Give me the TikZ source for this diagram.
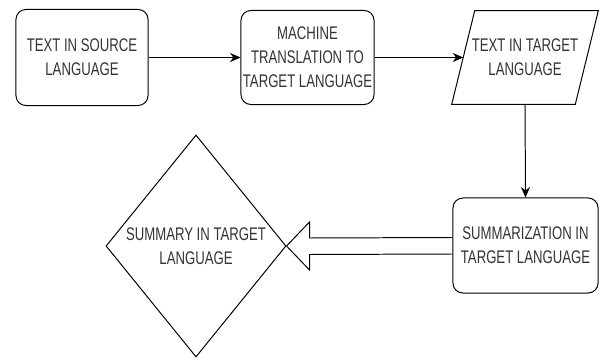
\documentclass[tikz,border=0pt]{standalone}
\usepackage{fontspec}
\setmainfont{Liberation Sans}[FakeStretch=0.72]
\usetikzlibrary{arrows.meta, calc, shapes.geometric}

\tikzset{
    flowbox/.style={draw, line width=0.7pt, rounded corners=7pt, align=center,
        text=black!80, font=\fontsize{13}{17}\selectfont, inner sep=0pt},
    flowtext/.style={align=center, text=black!80, font=\fontsize{13}{17}\selectfont, inner sep=0pt},
    flowline/.style={->, line width=0.7pt},
    bigarrow/.style={line width=0.7pt, line join=miter}
}

\begin{document}
\begin{tikzpicture}[x=0.025cm, y=-0.025cm, >={Stealth[length=7.5pt, width=6.5pt]}]
            % 0. 画布大小 (像素坐标, y 向下)
            \useasboundingbox (0,0) rectangle (602,359);

            % 1. 第一行: 源语言文本 -> 机器翻译 -> 目标语言文本
            \node[flowbox, minimum width=3.3cm, minimum height=2.4cm] (src) at (82,57.5)
                {TEXT IN SOURCE\\LANGUAGE};
            \node[flowbox, minimum width=3.325cm, minimum height=2.35cm] (mt) at (307.5,57.5)
                {MACHINE\\TRANSLATION TO\\TARGET LANGUAGE};
            \node[flowtext, minimum width=3.075cm, minimum height=2.325cm] (tgt) at (525,57.5)
                {TEXT IN TARGET\\LANGUAGE};
            % 平行四边形 (输入/输出)
            \draw[line width=0.7pt]
                ($(tgt.north west)+(11.5,0)$) -- ($(tgt.north east)+(11.5,0)$)
                -- ($(tgt.south east)+(-11.5,0)$) -- ($(tgt.south west)+(-11.5,0)$) -- cycle;

            % 2. 第二行: 摘要 -> 目标语言摘要
            \node[flowbox, minimum width=3.625cm, minimum height=2.375cm] (sum) at (525.5,245.5)
                {SUMMARIZATION IN\\TARGET LANGUAGE};
            \node[draw, diamond, line width=0.7pt, minimum width=4.5cm, minimum height=5.55cm,
                inner sep=0pt, flowtext] (out) at (196,246)
                {SUMMARY IN TARGET\\LANGUAGE};

            % 3. 连线
            \draw[flowline] (src.east) -- (mt.west);
            \draw[flowline] (mt.east) -- (tgt.west);
            \draw[flowline] (tgt.south) -- (sum.north);

            % 4. 空心大箭头 (摘要结果)
            \draw[bigarrow]
                ($(sum.west)+(0,-8)$) -- ($(out.east)+(23,-8)$)
                -- ($(out.east)+(23,-24)$) -- (out.east)
                -- ($(out.east)+(23,24)$) -- ($(out.east)+(23,8.5)$)
                -- ($(sum.west)+(0,8.5)$);
        \end{tikzpicture}
\end{document}
